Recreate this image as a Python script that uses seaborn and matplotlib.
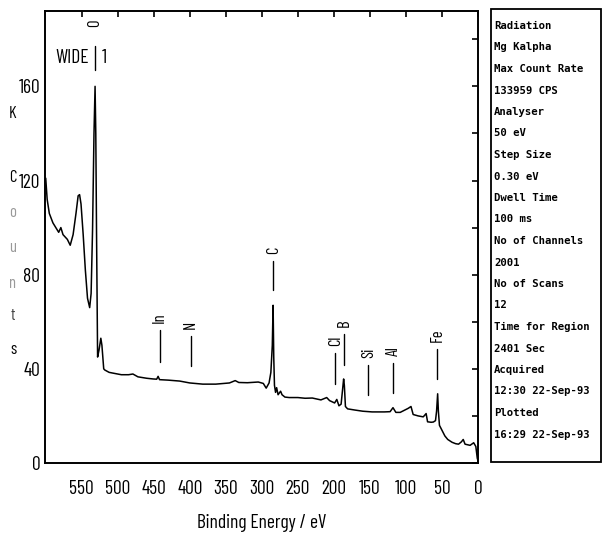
import matplotlib
matplotlib.use("Agg")
import matplotlib.pyplot as plt
from matplotlib.patches import Rectangle
from matplotlib.ticker import MultipleLocator
import seaborn as sns

# XPS wide scan, binding energy (eV) vs counts (K)
energy = [600, 598, 595, 590, 585, 582, 579, 576, 570, 566, 562, 558, 555, 553,
          551, 548, 545, 542, 539, 537, 535, 533, 531.5, 530.5, 529.5, 528, 526,
          523.5, 522, 519.5, 518, 512, 507, 495, 485, 479, 472, 460, 451, 446,
          444, 442, 430, 414, 400, 382, 364, 345, 337, 332, 320, 305, 298, 294,
          290, 287.5, 285.5, 284.4, 283.5, 282.5, 281, 279.5, 277.5, 274, 272,
          268, 262, 250, 240, 230, 218, 210, 206, 199, 196, 193, 190, 186.5,
          185.5, 184, 181, 171, 160, 147, 130, 122, 118, 114, 108, 97, 93, 90,
          83, 76, 72, 70, 65, 62, 59, 57.5, 56, 55, 53.5, 51, 46, 42, 36, 31,
          27, 23, 20.5, 18, 11, 6, 3, 1, 0]
counts = [121, 112, 106, 102, 99.5, 98, 100, 97, 95, 92.5, 97, 106, 113.5, 114,
          110, 97, 82, 70, 66, 72, 99, 140, 160, 140, 99, 45, 48,
          53, 50, 40, 39.5, 38.5, 38.2, 37.5, 37.5, 37.8, 36.6, 36, 35.7, 35.6,
          36.8, 35.4, 35.2, 34.8, 34, 33.5, 33.5, 34, 35, 34.2, 34.1, 34.4, 33.8, 31.8,
          34, 38.5, 50, 67, 45, 33, 30, 32, 29, 30.5, 29,
          28, 27.8, 27.8, 27.5, 27.6, 26.8, 27.8, 26.5, 25.5, 27, 24.3, 25, 35.7,
          33, 24, 23, 22.5, 22, 21.7, 21.7, 21.8, 23.5, 21.5, 21.5, 23.2, 24, 20.6,
          20, 19.6, 21, 17.5, 17.3, 17.4, 18, 22, 29.4, 22, 16, 14.5, 11.5, 10, 8.8, 8.2,
          8, 9, 10, 8, 7.5, 8.6, 7, 2, 1]

# element markers: name, energy (eV), marker line bottom/top (counts)
peak_names = ["O", "In", "N", "C", "Cl", "B", "Si", "Al", "Fe"]
peak_energy = [532, 442, 399, 284, 198, 186, 152, 118, 57]
marker_low = [167, 43, 41, 73.5, 33.5, 41.6, 29, 29.7, 35.7]
marker_high = [177, 56.5, 54, 86, 46.7, 55, 41.6, 42.4, 48.4]

x_ticks = list(range(0, 551, 50))
y_ticks = [0, 40, 80, 120, 160]

info_lines = ["Radiation", "Mg Kalpha", "Max Count Rate", "133959 CPS",
              "Analyser", "50 eV", "Step Size", "0.30 eV", "Dwell Time",
              "100 ms", "No of Channels", "2001", "No of Scans", "12",
              "Time for Region", "2401 Sec", "Acquired", "12:30 22-Sep-93",
              "Plotted", "16:29 22-Sep-93"]

sns.set_style("white")
plt.rcParams["font.family"] = ["Barlow Condensed", "DejaVu Sans"]
plt.rcParams["text.color"] = "black"
plt.rcParams["xtick.labelcolor"] = "black"
plt.rcParams["ytick.labelcolor"] = "black"
plt.rcParams["axes.labelcolor"] = "black"

W, H = 603, 541
fig = plt.figure(figsize=(W / 100, H / 100), dpi=100)
ax = fig.add_axes([45 / W, (H - 463) / H, 433 / W, 452 / H])

sns.lineplot(x=energy, y=counts, ax=ax, color="black", linewidth=1.1,
             estimator=None, sort=False)

ax.set_xlim(601, 0)
ax.set_ylim(0, 192)
ax.set_xticks(x_ticks)
ax.set_xticklabels([str(v) for v in x_ticks])
ax.set_yticks(y_ticks)
ax.set_yticklabels([str(v) for v in y_ticks])
ax.yaxis.set_minor_locator(MultipleLocator(20))

for s in ax.spines.values():
    s.set_linewidth(1.4)
    s.set_color("black")
ax.tick_params(which="both", direction="in", top=True, right=True,
               length=4.5, width=1.2, color="black")
ax.tick_params(axis="x", which="major", pad=12, labelsize=14)
ax.tick_params(axis="y", which="major", pad=3.5, labelsize=14)
ax.set_xlabel("Binding Energy / eV", fontsize=14, labelpad=12)
ax.set_ylabel("")

# element markers with rotated labels
for name, e, lo, hi in zip(peak_names, peak_energy, marker_low, marker_high):
    ax.plot([e, e], [lo, hi], color="black", lw=1.0)
    off = 14 if name == "O" else 5
    ax.annotate(name, (e, hi), xytext=(0, off), textcoords="offset points",
                rotation=90, ha="center", va="bottom", fontsize=12)

# region name around the O marker
o_e = peak_energy[0]
o_mid = (marker_low[0] + marker_high[0]) / 2
ax.annotate("WIDE", (o_e, o_mid), xytext=(-4, 0), textcoords="offset points",
            ha="right", va="center", fontsize=14)
ax.annotate("1", (o_e, o_mid), xytext=(5, 0), textcoords="offset points",
            ha="left", va="center", fontsize=14)

# stacked y-axis title
ylab = [("K", 113, "black"), ("C", 178, "black"), ("o", 212, "#999999"),
        ("u", 247, "#999999"), ("n", 283, "#999999"), ("t", 315, "#444444"),
        ("s", 350, "black")]
for ch, ypix, col in ylab:
    fig.text(13 / W, 1 - ypix / H, ch, ha="center", va="center",
             fontsize=12, color=col)

# acquisition parameters panel
fig.patches.append(Rectangle((491 / W, (H - 462) / H), 110 / W, 453 / H,
                             transform=fig.transFigure, fill=False,
                             edgecolor="black", linewidth=1.3))
for i, line in enumerate(info_lines):
    fig.text(494 / W, 1 - (26 + 21.5 * i) / H, line, ha="left", va="center",
             fontsize=7.7, fontweight="bold", family="DejaVu Sans Mono")

fig.savefig("out.png", dpi=100)
